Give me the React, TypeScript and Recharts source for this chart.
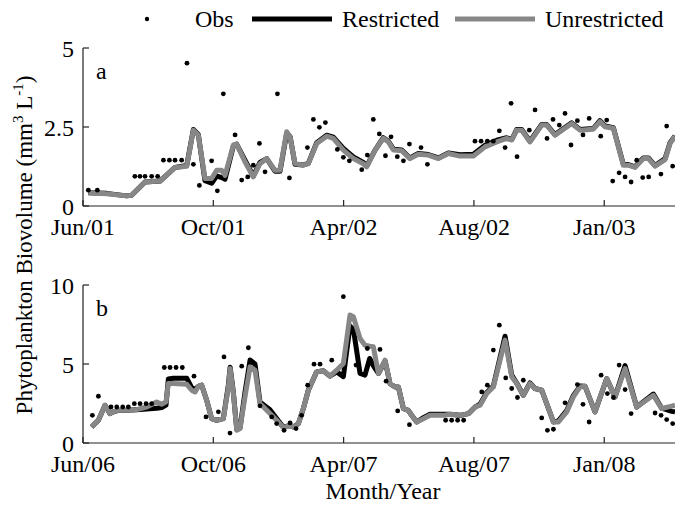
import { ComposedChart, Line, Scatter, XAxis, YAxis } from 'recharts'

const FONT = "'Liberation Serif', 'Times New Roman', serif"

// x positions are in tick units: one labelled tick every 10
const xTicks = [0, 10, 20, 30, 40]
const aTickLabels = ['Jun/01', 'Oct/01', 'Apr/02', 'Aug/02', 'Jan/03']
const bTickLabels = ['Jun/06', 'Oct/06', 'Apr/07', 'Aug/07', 'Jan/08']

// panel a: model output
const aT = [0.41, 1.82, 3.35, 3.73, 4.76, 5.91, 7.06, 7.96, 8.47, 8.85, 9.36, 9.87, 10.26, 10.64, 10.9, 11.54, 11.79, 12.43, 13.07, 13.58, 14.1, 14.73, 15.12, 15.63, 15.89, 16.27, 16.91, 17.29, 17.93, 18.7, 19.21, 19.98, 20.75, 21.51, 21.77, 22.41, 23.05, 23.44, 23.82, 24.46, 25.09, 25.73, 26.5, 27.27, 28.04, 28.93, 29.96, 30.85, 31.75, 32.51, 32.9, 33.28, 33.66, 34.3, 35.2, 35.58, 36.22, 37.5, 38.14, 39.16, 39.67, 40.06, 40.7, 41.47, 41.85, 42.36, 43.0, 43.39, 43.9, 44.67, 45.05, 45.43]
const aUnres = [0.42, 0.39, 0.32, 0.34, 0.76, 0.79, 1.22, 1.26, 2.4, 2.24, 0.87, 0.87, 1.13, 1.13, 0.97, 1.93, 1.96, 1.4, 0.92, 1.34, 1.5, 1.13, 1.13, 2.35, 2.19, 1.34, 1.29, 1.34, 1.98, 2.21, 2.14, 1.77, 1.5, 1.34, 1.24, 1.77, 2.14, 2.03, 1.77, 1.75, 1.5, 1.64, 1.61, 1.5, 1.66, 1.58, 1.58, 1.87, 2.03, 2.14, 2.09, 2.4, 2.4, 2.03, 2.56, 2.56, 2.24, 2.61, 2.4, 2.43, 2.67, 2.51, 2.46, 1.29, 1.29, 1.22, 1.5, 1.5, 1.26, 1.47, 1.98, 2.21]
const aRes = [0.42, 0.4, 0.32, 0.34, 0.76, 0.79, 1.22, 1.28, 2.42, 2.26, 0.8, 0.72, 0.95, 0.9, 0.85, 1.9, 1.96, 1.45, 0.95, 1.38, 1.5, 1.1, 1.1, 2.3, 2.2, 1.32, 1.3, 1.35, 2.0, 2.24, 2.18, 1.82, 1.55, 1.38, 1.26, 1.77, 2.16, 2.05, 1.8, 1.77, 1.52, 1.66, 1.63, 1.52, 1.68, 1.62, 1.64, 1.92, 2.08, 2.16, 2.1, 2.42, 2.42, 2.05, 2.58, 2.58, 2.26, 2.63, 2.42, 2.45, 2.7, 2.53, 2.48, 1.31, 1.31, 1.24, 1.52, 1.52, 1.28, 1.5, 2.0, 2.22]
// panel a: observations
const aObsT = [0.41, 1.1, 3.98, 4.37, 4.76, 5.27, 5.73, 6.17, 6.63, 7.06, 7.57, 7.98, 8.47, 8.93, 9.87, 10.31, 10.77, 11.67, 12.18, 12.64, 13.07, 13.54, 13.97, 14.92, 15.84, 17.22, 17.68, 18.14, 18.6, 19.52, 19.98, 20.44, 21.39, 21.82, 22.28, 22.74, 23.21, 23.64, 24.12, 24.59, 25.05, 25.94, 26.43, 30.08, 30.55, 31.03, 31.49, 31.95, 32.39, 32.85, 33.31, 34.25, 34.69, 35.61, 36.07, 36.55, 36.99, 37.45, 37.94, 38.37, 38.84, 39.73, 40.19, 40.65, 41.14, 41.6, 42.06, 42.49, 42.95, 43.41, 44.35, 44.79, 45.25]
const aObsV = [0.5, 0.5, 0.94, 0.94, 0.94, 0.94, 0.94, 1.45, 1.45, 1.45, 1.45, 4.52, 1.32, 0.65, 1.43, 0.48, 3.55, 2.25, 0.82, 0.92, 1.29, 1.98, 1.08, 3.55, 0.89, 1.85, 2.74, 2.49, 2.64, 1.79, 1.54, 1.43, 1.15, 1.61, 2.74, 2.28, 1.59, 2.19, 1.56, 1.43, 1.96, 1.85, 1.32, 2.05, 2.05, 2.05, 2.05, 2.38, 1.85, 3.25, 1.56, 2.4, 3.04, 2.14, 2.74, 2.56, 2.93, 1.93, 2.7, 2.25, 2.77, 2.21, 2.72, 0.79, 1.05, 0.92, 0.76, 1.45, 0.9, 0.92, 1.01, 2.53, 1.26]

// panel b: model output
const bT = [0.66, 1.18, 1.69, 2.07, 2.33, 2.71, 3.35, 4.11, 4.88, 5.65, 6.04, 6.37, 6.55, 6.93, 7.96, 8.34, 8.6, 8.85, 9.11, 9.49, 9.87, 10.26, 10.77, 11.16, 11.29, 11.54, 11.8, 12.05, 12.43, 12.82, 13.2, 13.58, 13.97, 14.35, 14.86, 15.38, 15.89, 16.14, 16.53, 16.91, 17.29, 17.93, 18.44, 18.95, 19.47, 19.98, 20.49, 20.75, 21.26, 21.64, 22.0, 22.28, 22.67, 23.18, 23.56, 23.94, 24.2, 24.59, 24.97, 25.22, 25.61, 26.12, 26.63, 27.66, 28.17, 28.94, 29.58, 30.09, 30.47, 30.98, 31.49, 32.39, 32.9, 33.28, 33.79, 34.3, 34.69, 35.2, 36.1, 36.48, 37.12, 37.63, 38.14, 38.53, 39.29, 40.19, 40.83, 41.6, 42.49, 43.77, 44.41, 45.18, 45.43]
const bUnres = [1.01, 1.44, 2.39, 1.86, 1.97, 2.07, 2.07, 2.11, 2.28, 2.6, 2.45, 2.6, 3.76, 3.76, 3.72, 3.34, 3.23, 3.59, 3.66, 2.71, 1.54, 1.44, 1.54, 3.55, 4.71, 3.13, 0.8, 0.91, 2.92, 4.82, 4.61, 2.49, 2.18, 1.86, 1.44, 0.97, 1.12, 1.01, 1.23, 2.18, 3.34, 4.5, 4.57, 4.23, 4.61, 5.03, 8.1, 7.99, 6.62, 6.19, 6.12, 6.09, 4.4, 5.24, 3.76, 3.55, 3.55, 2.18, 2.07, 1.75, 1.33, 1.54, 1.75, 1.75, 1.82, 1.75, 1.86, 2.28, 2.39, 3.13, 3.55, 6.51, 4.19, 3.76, 3.02, 3.76, 3.45, 3.34, 1.33, 1.33, 1.97, 2.92, 3.55, 3.59, 1.97, 4.08, 2.92, 4.71, 2.28, 3.02, 2.18, 2.33, 2.39]
const bRes = [1.01, 1.44, 2.39, 1.86, 1.97, 2.07, 2.07, 2.11, 2.15, 2.2, 2.25, 2.4, 4.05, 4.1, 4.1, 3.5, 3.4, 3.59, 3.66, 2.71, 1.54, 1.44, 1.54, 3.7, 4.8, 3.2, 0.85, 0.95, 3.2, 5.25, 5.0, 2.6, 2.35, 2.1, 1.55, 1.0, 1.12, 1.01, 1.23, 2.18, 3.34, 4.5, 4.57, 4.23, 4.5, 4.2, 7.4, 7.2, 4.4, 4.3, 5.35, 4.9, 4.4, 5.2, 3.76, 3.55, 3.55, 2.18, 2.07, 1.75, 1.33, 1.6, 1.82, 1.82, 1.82, 1.75, 1.86, 2.28, 2.45, 3.2, 3.6, 6.76, 4.3, 3.8, 3.02, 3.8, 3.45, 3.34, 1.33, 1.4, 2.05, 3.0, 3.6, 3.59, 1.97, 4.08, 2.92, 4.9, 2.28, 3.1, 2.2, 2.0, 1.97]
// panel b: observations
const bObsT = [0.72, 1.18, 2.15, 2.59, 3.05, 3.48, 3.94, 4.38, 4.84, 5.27, 6.24, 6.68, 7.14, 7.62, 8.52, 9.44, 10.39, 10.82, 11.28, 12.18, 12.69, 13.58, 14.48, 14.86, 15.43, 15.89, 16.35, 16.78, 17.24, 17.73, 18.19, 19.09, 19.98, 20.95, 21.82, 22.79, 23.26, 24.15, 25.05, 27.83, 28.29, 28.75, 29.21, 30.6, 31.03, 31.49, 31.95, 32.44, 32.9, 33.34, 33.79, 35.2, 35.64, 36.1, 36.99, 37.94, 38.37, 38.84, 39.76, 40.24, 40.7, 41.14, 41.6, 42.06, 43.9, 44.36, 44.79, 45.25]
const bObsV = [1.75, 2.96, 2.28, 2.28, 2.28, 2.28, 2.49, 2.49, 2.49, 2.49, 4.78, 4.78, 4.78, 4.78, 4.23, 1.65, 1.97, 5.45, 0.63, 4.86, 6.03, 2.35, 1.65, 1.23, 0.8, 1.27, 0.91, 1.75, 3.66, 4.99, 4.99, 5.24, 9.26, 4.93, 5.98, 5.92, 3.91, 2.03, 1.16, 1.44, 1.44, 1.44, 1.44, 3.23, 3.66, 5.88, 7.46, 4.12, 3.45, 2.88, 3.97, 1.59, 0.8, 0.87, 2.54, 3.7, 2.45, 1.33, 4.29, 3.13, 2.88, 4.93, 3.38, 1.86, 1.9, 1.75, 1.48, 1.23]

const X_MAX = 45.43
const GRAY = '#878787'
const AXIS = '#222'
const FS = 24
const textStyle = { fontFamily: FONT, fontSize: FS }

function BottomTick(props: any) {
  const { x, y, payload, labels } = props
  const i = xTicks.indexOf(payload.value)
  return (
    <g>
      <line x1={x} x2={x} y1={y} y2={y - 6} stroke={AXIS} strokeWidth={1.2} />
      <text x={x} y={y + 29} textAnchor="middle" fill="#000" style={textStyle}>
        {labels[i]}
      </text>
    </g>
  )
}

function TopTick(props: any) {
  const { x, y } = props
  return <line x1={x} x2={x} y1={y} y2={y + 6} stroke={AXIS} strokeWidth={1.2} />
}

function LeftTick(props: any) {
  const { x, y, payload } = props
  return (
    <g>
      <line x1={x} x2={x + 6} y1={y} y2={y} stroke={AXIS} strokeWidth={1.2} />
      <text x={x - 9} y={y + 9} textAnchor="end" fill="#000" style={textStyle}>
        {payload.value}
      </text>
    </g>
  )
}

function Dot(p: any) {
  return <circle cx={p.cx} cy={p.cy} r={2.4} fill="#000" />
}

interface PanelProps {
  t: number[]
  res: number[]
  unres: number[]
  obsT: number[]
  obsV: number[]
  yMax: number
  yTicks: number[]
  labels: string[]
  height: number
  top: number
  axisH: number
}

function Panel({ t, res, unres, obsT, obsV, yMax, yTicks, labels, height, top, axisH }: PanelProps) {
  const rows = t.map((x, i) => ({ t: x, res: res[i], unres: unres[i] }))
  const obs = obsT.map((x, i) => ({ t: x, v: obsV[i] }))
  return (
    <ComposedChart width={675} height={height} data={rows} margin={{ top, right: 0, bottom: 0, left: 0 }}>
      <XAxis
        dataKey="t" type="number" domain={[0, X_MAX]} allowDataOverflow ticks={xTicks}
        height={axisH} tickSize={0} tickMargin={0} tickLine={false}
        axisLine={{ stroke: AXIS, strokeWidth: 1.2 }}
        tick={<BottomTick labels={labels} />} interval={0}
      />
      <XAxis
        xAxisId="top" orientation="top" dataKey="t" type="number" domain={[0, X_MAX]} allowDataOverflow
        ticks={xTicks} height={0} tickSize={0} tickMargin={0} tickLine={false}
        axisLine={{ stroke: AXIS, strokeWidth: 1.2 }} tick={<TopTick />} interval={0}
      />
      <YAxis
        type="number" domain={[0, yMax]} ticks={yTicks} width={83} tickSize={0} tickMargin={0}
        tickLine={false} axisLine={{ stroke: AXIS, strokeWidth: 1.2 }} tick={<LeftTick />} interval={0}
      />
      <Line dataKey="res" stroke="#000" strokeWidth={5} dot={false} isAnimationActive={false} strokeLinejoin="round" />
      <Line dataKey="unres" stroke={GRAY} strokeWidth={5} dot={false} isAnimationActive={false} strokeLinejoin="round" />
      <Scatter data={obs} dataKey="v" shape={<Dot />} isAnimationActive={false} />
    </ComposedChart>
  )
}

export default function App() {
  return (
    <div style={{ position: 'absolute', left: 0, top: 0, width: 675, height: 512, background: '#fff', overflow: 'hidden', fontFamily: FONT }}>
      <svg width={675} height={44} style={{ position: 'absolute', left: 0, top: 0 }}>
        <circle cx={147} cy={19} r={2.2} fill="#000" />
        <text x={195} y={27} style={textStyle}>Obs</text>
        <line x1={252} x2={332} y1={19} y2={19} stroke="#000" strokeWidth={5} />
        <text x={342} y={27} style={textStyle}>Restricted</text>
        <line x1={455} x2={535} y1={19} y2={19} stroke={GRAY} strokeWidth={5} />
        <text x={545} y={27} style={textStyle}>Unrestricted</text>
      </svg>
      <div style={{ position: 'absolute', left: 0, top: 0 }}>
        <Panel t={aT} res={aRes} unres={aUnres} obsT={aObsT} obsV={aObsV} yMax={5} yTicks={[0, 2.5, 5]}
          labels={aTickLabels} height={250} top={48} axisH={44} />
      </div>
      <div style={{ position: 'absolute', left: 0, top: 250 }}>
        <Panel t={bT} res={bRes} unres={bUnres} obsT={bObsT} obsV={bObsV} yMax={10} yTicks={[0, 5, 10]}
          labels={bTickLabels} height={262} top={35} axisH={69} />
      </div>
      <div style={{ position: 'absolute', left: 96, top: 58, fontSize: FS }}>a</div>
      <div style={{ position: 'absolute', left: 96, top: 295, fontSize: FS }}>b</div>
      <div
        style={{
          position: 'absolute', left: 24, top: 245, fontSize: 23, whiteSpace: 'nowrap',
          transform: 'translate(-50%, -50%) rotate(-90deg)',
        }}
      >
        Phytoplankton Biovolume (mm<sup style={{ fontSize: 15 }}>3</sup> L<sup style={{ fontSize: 15 }}>-1</sup>)
      </div>
      <div style={{ position: 'absolute', left: 383, top: 478, fontSize: FS, transform: 'translateX(-50%)', whiteSpace: 'nowrap' }}>
        Month/Year
      </div>
    </div>
  )
}
